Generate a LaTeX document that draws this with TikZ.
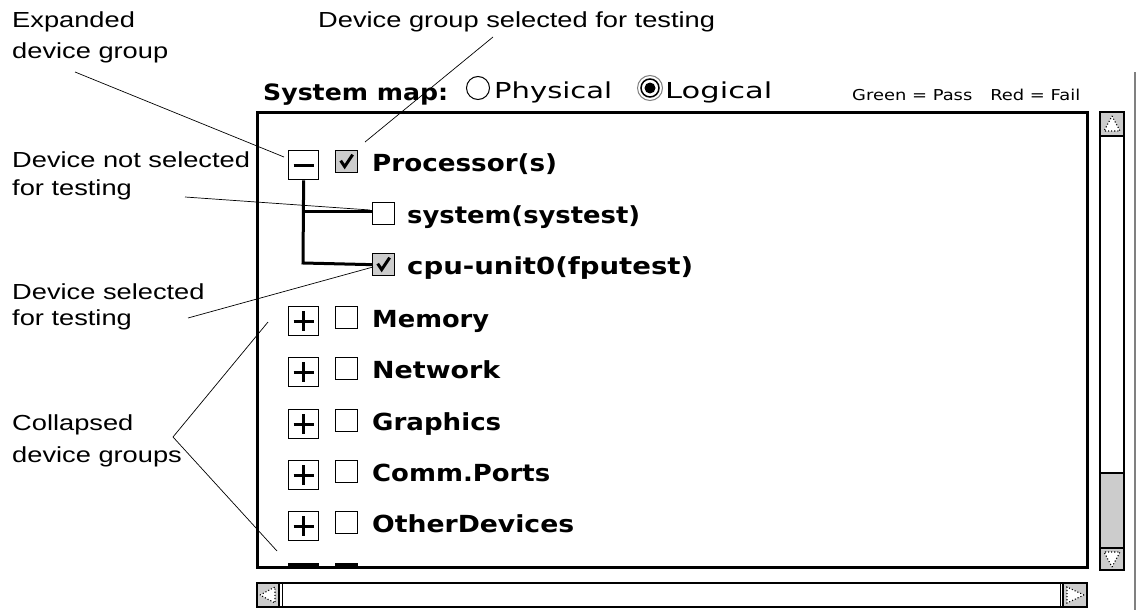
\documentclass[tikz,border=0pt]{standalone}
\usepackage{fontspec}
\usepackage{graphicx}
\usetikzlibrary{calc}
\setmainfont{Liberation Sans}
\newfontfamily\annfont[FakeStretch=1.25]{Liberation Sans}
\newfontfamily\uifont{DejaVu Sans}
\newcommand\fitw[2]{\resizebox{#1pt}{\height}{#2}}
\definecolor{uigray}{gray}{0.8}
\begin{document}
\begin{tikzpicture}[x=1pt,y=-1pt,
  ann/.style={font=\annfont\fontsize{21.8}{24}\selectfont, anchor=base west, inner sep=0pt},
  leader/.style={line width=0.7pt},
  itemtext/.style={font=\uifont\bfseries\fontsize{23.5}{26}\selectfont, anchor=base west, inner sep=0pt},
  hdrtext/.style={font=\uifont\fontsize{22}{24}\selectfont, anchor=base west, inner sep=0pt},
  expbox/.style={draw, line width=1.3pt, minimum width=30pt, minimum height=29pt, inner sep=0pt, anchor=north west},
  chkbox/.style={draw, line width=1.3pt, minimum width=22pt, minimum height=22pt, inner sep=0pt, anchor=north west},
  checked/.style={chkbox, fill=uigray},
  treeline/.style={line width=3pt},
  signline/.style={line width=3.3pt},
  tick/.style={line width=3pt, line join=miter},
  sbframe/.style={draw, line width=2.4pt},
  arrowtri/.style={draw, dotted, line width=1.1pt, fill=white}
]
\useasboundingbox (0,0) rectangle (1137,610);

% ---------- header ----------
\node[hdrtext, font=\uifont\bfseries\fontsize{22.5}{24}\selectfont] (sysmap) at (263,100) {\fitw{185}{System map:}};
\node[circle, draw, line width=1pt, minimum size=23pt, inner sep=0pt] (rphys) at (478,88) {};
\node[hdrtext] (tphys) at (494,98) {\fitw{118}{Physical}};
\node[circle, draw=gray, line width=1pt, minimum size=25pt, inner sep=0pt] (rlog) at (650,88) {};
\node[circle, draw, line width=1.5pt, minimum size=18pt, inner sep=0pt] (rlogin) at (650,88) {};
\node[circle, fill, minimum size=11pt, inner sep=0pt] (rlogdot) at (650,88) {};
\node[hdrtext] (tlog) at (665,98) {\fitw{107}{Logical}};
\node[hdrtext, font=\uifont\fontsize{15}{16}\selectfont] (legend) at (852,100) {\fitw{228}{Green = Pass\quad Red = Fail}};

% ---------- main panel ----------
\draw[line width=3pt] (257,112) rectangle (1087,567);

% Processor(s) row
\node[expbox] (eproc) at (288,150) {};
\draw[signline] ($(eproc.center)+(-10,0)$) -- ($(eproc.center)+(10,0)$);
\node[checked] (cproc) at (335,150) {};
\draw[tick] ($(cproc.center)+(-6,-1)$) -- ($(cproc.center)+(-2,5)$) -- ($(cproc.center)+(6,-7)$);
\node[itemtext] (tproc) at (372,171) {\fitw{185}{Processor(s)}};

% children
\node[chkbox] (csys) at (372,202) {};
\node[itemtext] (tsys) at (407,223) {\fitw{233}{system(systest)}};
\node[checked] (ccpu) at (372,253) {};
\draw[tick] ($(ccpu.center)+(-6,-1)$) -- ($(ccpu.center)+(-2,5)$) -- ($(ccpu.center)+(6,-7)$);
\node[itemtext] (tcpu) at (407,274) {\fitw{286}{cpu-unit0(fputest)}};

\coordinate (tsplit) at (303,211);
\draw[treeline] (eproc.south) -- (303,263) -- (ccpu.west);
\draw[treeline] (tsplit) -- (csys.west |- tsplit);

% collapsed groups
\foreach \n/\t/\w/\lab in {mem/306/117/Memory, net/357/128/Network, gfx/409/129/Graphics, com/460/178/Comm.Ports, oth/511/202/OtherDevices} {
  \node[expbox] (e\n) at (288,\t) {};
  \draw[signline] ($(e\n.center)+(-10,0)$) -- ($(e\n.center)+(10,0)$) ($(e\n.center)+(0,-10)$) -- ($(e\n.center)+(0,10)$);
  \node[chkbox] (c\n) at (335,\t) {};
  \node[itemtext] (t\n) at (372,{\t+21}) {\fitw{\w}{\lab}};
}
% partially hidden next row
\draw[line width=3pt] (288,564) -- (319,564) (335,564) -- (358,564);

% ---------- vertical scrollbar ----------
\fill[uigray] (1100,112) rectangle (1124,136);
\fill[uigray] (1100,473) rectangle (1124,570);
\draw[line width=2pt] (1100,136) -- (1124,136);
\draw[line width=2pt] (1100,473) -- (1124,473);
\draw[line width=2pt] (1100,548) -- (1124,548);
\draw[sbframe] (1100,112) rectangle (1124,570);
\draw[arrowtri] (1112,116) -- (1120,131) -- (1104,131) -- cycle;
\draw[arrowtri] (1112,567) -- (1120,552) -- (1104,552) -- cycle;

% ---------- horizontal scrollbar ----------
\fill[uigray] (257,583) rectangle (279,607);
\fill[uigray] (1063,583) rectangle (1087,607);
\draw[line width=2pt] (279,583) -- (279,607);
\draw[line width=1pt] (282,583) -- (282,607);
\draw[line width=2pt] (1063,583) -- (1063,607);
\draw[line width=1pt] (1060,583) -- (1060,607);
\draw[sbframe] (257,583) rectangle (1087,607);
\draw[arrowtri] (260,595) -- (275,587) -- (275,603) -- cycle;
\draw[arrowtri] (1084,595) -- (1067,587) -- (1067,603) -- cycle;

% far right edge
\draw[gray, line width=1.2pt] (1135,72) -- (1135,610);

% ---------- annotations ----------
\node[ann] (aexp1) at (12,28) {Expanded};
\node[ann] (aexp2) at (12,59) {device group};
\node[ann] (agrp) at (318,28) {Device group selected for testing};
\node[ann] (anot1) at (12,167) {Device not selected};
\node[ann] (anot2) at (12,195) {for testing};
\node[ann] (asel1) at (12,299) {Device selected};
\node[ann] (asel2) at (12,325) {for testing};
\node[ann] (acol1) at (12,430) {Collapsed};
\node[ann] (acol2) at (12,462) {device groups};

\coordinate (l1a) at (75,72);   \coordinate (l1b) at (284,157);
\coordinate (l2a) at (493,37);  \coordinate (l2b) at (365,142);
\coordinate (l3a) at (185,197); \coordinate (l3b) at (370,210);
\coordinate (l4a) at (188,318); \coordinate (l4b) at (373,267);
\coordinate (l5a) at (173,437); \coordinate (l5b) at (268,322); \coordinate (l5c) at (277,551);
\draw[leader] (l1a) -- (l1b);
\draw[leader] (l2a) -- (l2b);
\draw[leader] (l3a) -- (l3b);
\draw[leader] (l4a) -- (l4b);
\draw[leader] (l5b) -- (l5a) -- (l5c);
\end{tikzpicture}
\end{document}
